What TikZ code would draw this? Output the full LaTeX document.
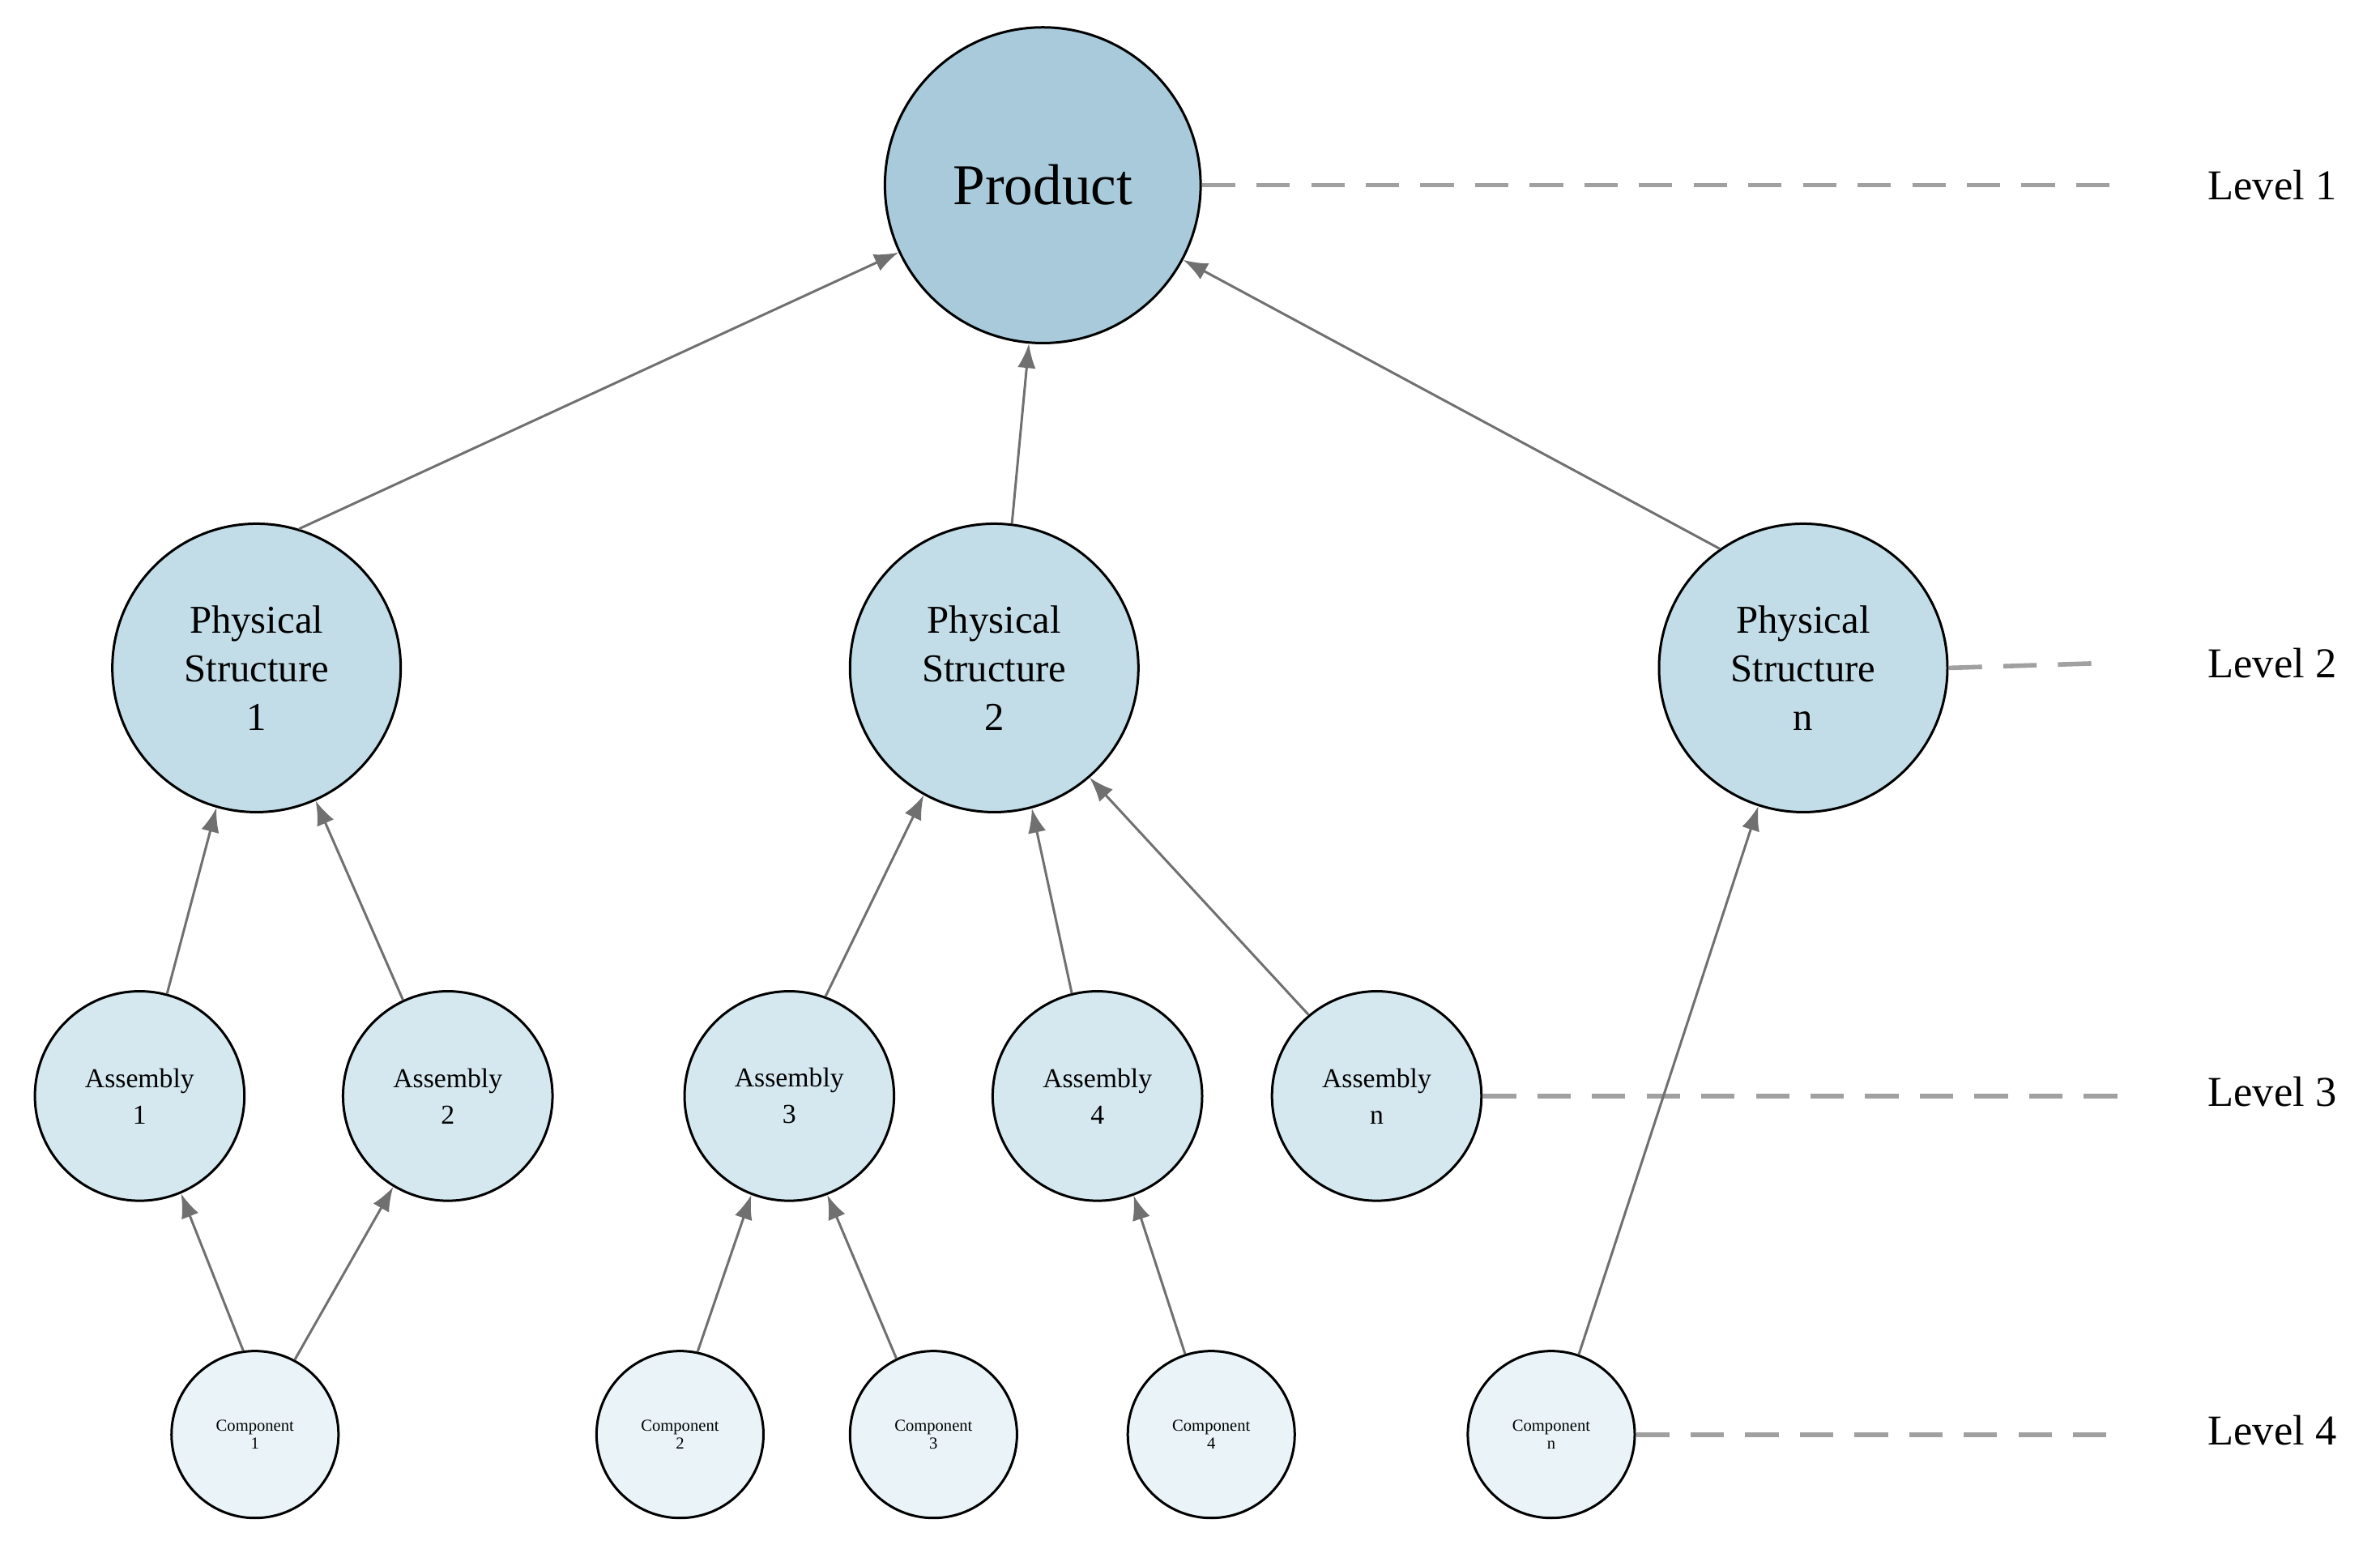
\documentclass[tikz,border=0pt]{standalone}
\usepackage{fontspec}
\setmainfont{Liberation Serif}
\usetikzlibrary{arrows.meta}
\definecolor{cP}{HTML}{A8CADB}
\definecolor{cS}{HTML}{C2DDE8}
\definecolor{cA}{HTML}{D5E8F0}
\definecolor{cC}{HTML}{EAF4F8}
\definecolor{ed}{HTML}{707070}
\definecolor{dl}{HTML}{A0A0A0}
\begin{document}
\begin{tikzpicture}[x=1pt,y=-1pt,
  base/.style={circle,draw=black,line width=1.6pt,inner sep=0pt,align=center},
  prod/.style={base,fill=cP,minimum size=208pt,font=\fontsize{38}{40}\selectfont},
  ps/.style={base,fill=cS,minimum size=190pt,font=\fontsize{26}{32}\selectfont},
  asm/.style={base,fill=cA,minimum size=138pt,font=\fontsize{18}{24}\selectfont},
  comp/.style={base,fill=cC,minimum size=110pt,font=\fontsize{11}{12}\selectfont},
  ar/.style={draw=ed,line width=1.6pt,-{Latex[length=16pt,width=12pt]}},
  lvldash/.style={draw=dl,line width=3pt,dash pattern=on 22pt off 14pt},
  lvl/.style={font=\fontsize{28}{30}\selectfont}]
\useasboundingbox (0,0) rectangle (1568,1020);
\node[prod] (P) at (687,122) {Product};
\node[ps] (S1) at (169,440) {Physical\\Structure\\1};
\node[ps] (S2) at (655,440) {Physical\\Structure\\2};
\node[ps] (Sn) at (1188,440) {Physical\\Structure\\n};
\node[asm] (A1) at (92,722) {Assembly\\1};
\node[asm] (A2) at (295,722) {Assembly\\2};
\node[asm] (A3) at (520,722) {Assembly\\3};
\node[asm] (A4) at (723,722) {Assembly\\4};
\node[asm] (An) at (907,722) {Assembly\\n};
\node[comp] (C1) at (168,945) {Component\\1};
\node[comp] (C2) at (448,945) {Component\\2};
\node[comp] (C3) at (615,945) {Component\\3};
\node[comp] (C4) at (798,945) {Component\\4};
\node[comp] (Cn) at (1022,945) {Component\\n};
\node[lvl] (L1) at (1497,122) {Level 1};
\node[lvl] (L2) at (1497,437) {Level 2};
\node[lvl] (L3) at (1497,719) {Level 3};
\node[lvl] (L4) at (1497,942) {Level 4};
\coordinate (e1) at (1400,122);
\coordinate (e2) at (1380,437);
\coordinate (e3) at (1400,722);
\coordinate (e4) at (1400,945);
\draw[lvldash] (P.east) -- (e1);
\draw[lvldash] (Sn.east) -- (e2);
\draw[lvldash] (An.east) -- (e3);
\draw[lvldash] (Cn.east) -- (e4);
\draw[ar] (S1.73) -- (P.205);
\draw[ar] (S2.83) -- (P.265);
\draw[ar] (Sn.125) -- (P.332);
\draw[ar] (A1.75) -- (S1.254);
\draw[ar] (A2.115) -- (S1.294);
\draw[ar] (A3.70) -- (S2.241);
\draw[ar] (A4.104) -- (S2.285);
\draw[ar] (An.130) -- (S2.311);
\draw[ar] (Cn.71) -- (Sn.252);
\draw[ar] (C1.98) -- (A1.293);
\draw[ar] (C1.62) -- (A2.239);
\draw[ar] (C2.78) -- (A3.249);
\draw[ar] (C3.116) -- (A3.291);
\draw[ar] (C4.108) -- (A4.290);
\end{tikzpicture}
\end{document}
